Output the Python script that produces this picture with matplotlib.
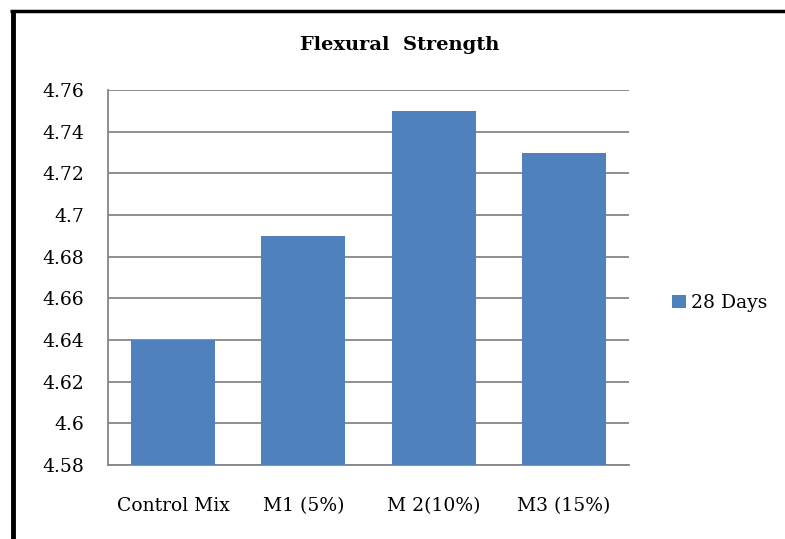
import matplotlib.pyplot as plt
from matplotlib.lines import Line2D

categories = ["Control Mix", "M1 (5%)", "M 2(10%)", "M3 (15%)"]
values = [4.64, 4.69, 4.75, 4.73]
series_name = "28 Days"
title = "Flexural  Strength"
yticks = [4.58, 4.6, 4.62, 4.64, 4.66, 4.68, 4.7, 4.72, 4.74, 4.76]

plt.rcParams["font.family"] = ["DejaVu Serif"]

W, H = 785, 539
fig = plt.figure(figsize=(W / 100, H / 100), dpi=100)
ax = fig.add_axes([108 / W, 1 - 465 / H, (629 - 108) / W, (465 - 90) / H])

x = range(len(categories))
ax.bar(x, values, width=0.645, color="#4F81BD", label=series_name, zorder=3)

ax.set_ylim(4.58, 4.76)
ax.set_xlim(-0.5, len(categories) - 0.5)
ax.set_yticks(yticks)
ax.set_yticklabels([f"{v:g}" for v in yticks])
ax.set_xticks(list(x))
ax.set_xticklabels(categories)
ax.tick_params(axis="both", length=0, labelsize=13.5, colors="black")
ax.tick_params(axis="y", pad=17)
ax.tick_params(axis="x", pad=23)
ax.grid(axis="y", color="#868686", linewidth=1.3, zorder=0)
for s in ["top", "right"]:
    ax.spines[s].set_visible(False)
for s in ["left", "bottom"]:
    ax.spines[s].set_color("#868686")
    ax.spines[s].set_linewidth(1.3)

fig.text(400 / W, 1 - 45 / H, title, ha="center", va="center",
         fontsize=14, fontweight="bold")

ax.legend(loc="center left", bbox_to_anchor=(655 / W, 1 - 303 / H),
          bbox_transform=fig.transFigure, frameon=False, fontsize=13.5,
          handlelength=0.75, handleheight=0.75, handletextpad=0.25)

# outer frame (left and top edges)
fig.add_artist(Line2D([12.5 / W, 12.5 / W], [0, 1 - 10 / H], color="black",
                      linewidth=3.5, solid_capstyle="butt",
                      transform=fig.transFigure))
fig.add_artist(Line2D([10 / W, 1], [1 - 11 / H, 1 - 11 / H], color="black",
                      linewidth=2.5, solid_capstyle="butt",
                      transform=fig.transFigure))

fig.savefig("out.png", dpi=100)
